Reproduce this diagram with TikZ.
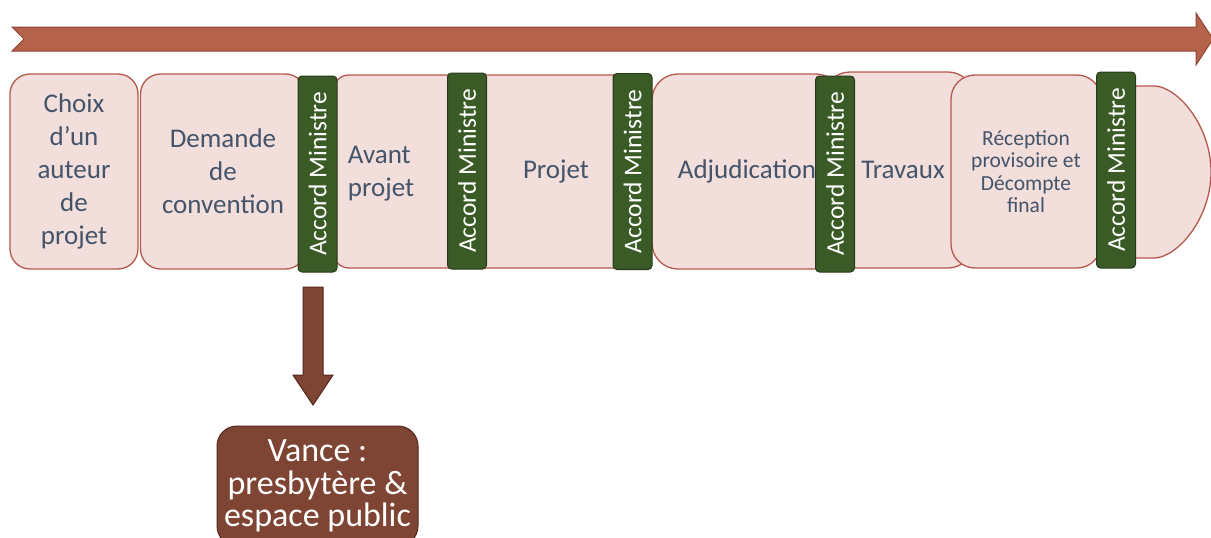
\documentclass[tikz,border=0pt]{standalone}
\usepackage{fontspec}
\setmainfont{Carlito}
\usepackage{tikz}

\definecolor{Rust}{HTML}{B4634A}
\definecolor{RustDark}{HTML}{8E4535}
\definecolor{Blush}{HTML}{F2DEDB}
\definecolor{BlushEdge}{HTML}{B5594E}
\definecolor{Moss}{HTML}{3B5B26}
\definecolor{MossDark}{HTML}{26391A}
\definecolor{Slate}{HTML}{44546A}
\definecolor{Cocoa}{HTML}{7E4434}
\definecolor{CocoaDark}{HTML}{55291E}

\begin{document}
\begin{tikzpicture}[x=1pt, y=-1pt,
      stage/.style={draw=BlushEdge, fill=Blush, line width=1.3pt, rounded corners=20,
            text=Slate, align=center, font=\fontsize{27}{33}\selectfont},
      accord/.style={draw=MossDark, fill=Moss, line width=1pt, rounded corners=4,
            text=white, rotate=90, minimum width=196, minimum height=39, inner sep=0pt,
            font=\fontsize{25.5}{28}\selectfont},
      label/.style={text=Slate, align=center, font=\fontsize{27}{33}\selectfont}]
      \useasboundingbox (0, 0) rectangle (1211, 538);
      \draw[fill=Rust, draw=RustDark, line width=1pt]
            (  12, 27) --
            (1196, 27) --
            (1196, 13) --
            (1213, 39) --
            (1196, 65) --
            (1196, 51) --
            (  12, 51) --
            (  24, 39) --
            cycle;
      \node[stage, minimum width=128, minimum height=195] (choix) at (74, 171.5)
            {Choix\\d’un\\auteur\\de\\projet};
      \node[stage, minimum width=165, minimum height=195] (demande) at (223, 171.5)
            {Demande\\de\\convention};
      \draw[stage] (1060, 86) -- (1134, 86)
            arc[start angle=-90, end angle=90, x radius=77, y radius=86] --
            (1060, 258) -- cycle;
      \node[stage, minimum width=318, minimum height=193, rounded corners=16] (etudes) at (492, 171.5) {};
      \node[label, align=left] (avant) at (381, 174) {Avant\\projet};
      \node[label] (projet) at (556, 172) {Projet};
      \node[stage, minimum width=190, minimum height=195, rounded corners=26] (adjudication) at (747, 171.5)
            {Adjudication};
      \node[stage, minimum width=150, minimum height=196, rounded corners=26] (travaux) at (899, 170)
            {\hspace*{8pt}Travaux};
      \node[stage, minimum width=150, minimum height=193, rounded corners=24,
            font=\fontsize{21.5}{22.5}\selectfont] (reception) at (1026, 171.5)
            {Réception\\provisoire et\\Décompte\\final};
      \node[accord] (accord1) at ( 317.5, 174) {Accord Ministre};
      \node[accord] (accord2) at ( 467,   171) {Accord Ministre};
      \node[accord] (accord3) at ( 632.5, 171.5) {Accord Ministre};
      \node[accord] (accord4) at ( 835,   174) {Accord Ministre};
      \node[accord] (accord5) at (1116,   170) {Accord Ministre};
      \draw[fill=Cocoa, draw=CocoaDark, line width=1pt]
            (303, 287) --
            (323, 287) --
            (323, 375) --
            (333, 375) --
            (313, 405) --
            (293, 375) --
            (303, 375) --
            cycle;
      \node[draw=CocoaDark, fill=Cocoa, line width=1pt, rounded corners=20, text=white,
            align=center, minimum width=201, minimum height=120, inner sep=2pt,
            font=\fontsize{34}{32.5}\selectfont] (vance) at (317.5, 486)
            {Vance :\\presbytère \&\\espace public};
\end{tikzpicture}
\end{document}
